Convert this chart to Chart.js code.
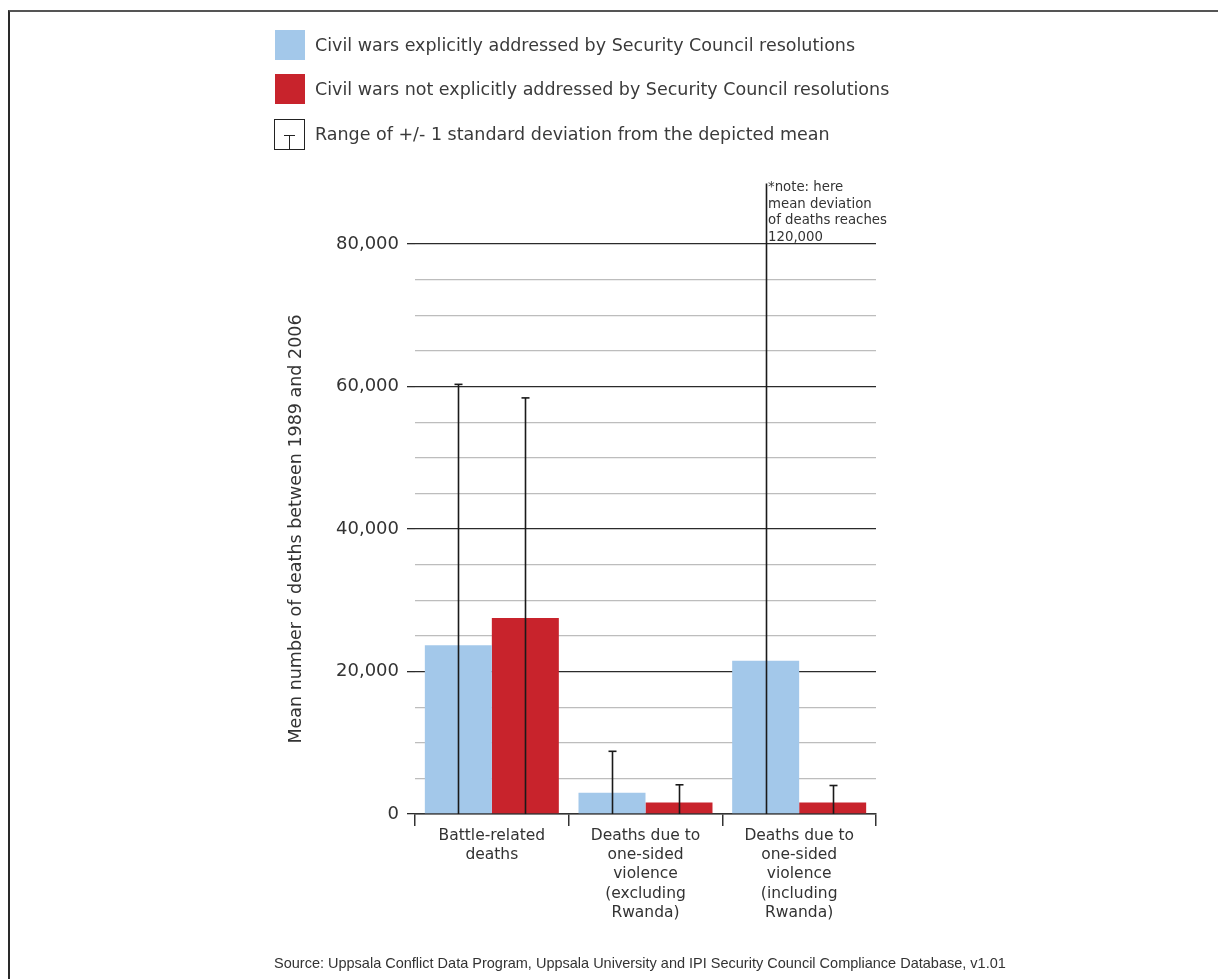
<!DOCTYPE html>
<html>
<head>
<meta charset="utf-8">
<script src="https://cdn.jsdelivr.net/npm/chart.js@4/dist/chart.umd.min.js"></script>
<style>
html,body{margin:0;padding:0;background:#fff;width:1218px;height:979px;overflow:hidden;}
#frame{position:absolute;left:8px;top:10px;width:1300px;height:1100px;border-left:2px solid #2a2a2a;border-top:2px solid #555;box-sizing:border-box;}
#c{position:absolute;left:0;top:0;}
.sw{position:absolute;left:275px;width:30px;height:30px;}
.lt{position:absolute;left:315px;font-family:'DejaVu Sans',sans-serif;font-size:17.5px;color:#3a3a3a;line-height:20px;white-space:nowrap;}
#sdbox{position:absolute;left:274px;top:119px;width:31px;height:31px;border:1px solid #222;box-sizing:border-box;}
#sdbox .h{position:absolute;left:9px;top:15px;width:11px;height:1px;background:#222;}
#sdbox .v{position:absolute;left:14px;top:15px;width:1px;height:15px;background:#222;}
#src{position:absolute;left:274px;top:954px;font-family:'Liberation Sans Narrow','Liberation Sans',sans-serif;font-size:14.5px;color:#333;white-space:nowrap;line-height:18px;}
</style>
</head>
<body>
<div id="frame"></div>
<canvas id="c" width="1218" height="979"></canvas>
<div class="sw" style="top:30px;background:#A3C8EA"></div>
<div class="lt" id="lt1" style="top:35px"></div>
<div class="sw" style="top:74px;background:#C8232C"></div>
<div class="lt" id="lt2" style="top:79px"></div>
<div id="sdbox"><div class="h"></div><div class="v"></div></div>
<div class="lt" id="lt3" style="top:124px"></div>
<div id="src"></div>
<script>
// ---- data ----
const categories = [
  ["Battle-related", "deaths"],
  ["Deaths due to", "one-sided", "violence", "(excluding", "Rwanda)"],
  ["Deaths due to", "one-sided", "violence", "(including", "Rwanda)"]
];
const seriesNames = [
  "Civil wars explicitly addressed by Security Council resolutions",
  "Civil wars not explicitly addressed by Security Council resolutions"
];
const sdLegendText = "Range of +/- 1 standard deviation from the depicted mean";
const addressedMeans = [23700, 3000, 21500];
const notAddressedMeans = [27500, 1600, 1600];
const addressedSD = [36600, 5800, 98500];
const notAddressedSD = [30900, 2500, 2400];
const errorDrawLimit = 88500;
const yMin = 0, yMax = 80000, yMinorStep = 5000, yMajorStep = 20000;
const yTitle = "Mean number of deaths between 1989 and 2006";
const noteLines = ["*note: here", "mean deviation", "of deaths reaches", "120,000"];
const sourceText = "Source: Uppsala Conflict Data Program, Uppsala University and IPI Security Council Compliance Database, v1.01";
const colors = ["#A3C8EA", "#C8232C"];

document.getElementById('lt1').textContent = seriesNames[0];
document.getElementById('lt2').textContent = seriesNames[1];
document.getElementById('lt3').textContent = sdLegendText;
document.getElementById('src').textContent = sourceText;

const sdSets = [addressedSD, notAddressedSD];

const errorPlugin = {
  id: 'errorBars',
  afterDatasetsDraw(chart) {
    const ctx = chart.ctx;
    const ys = chart.scales.y;
    sdSets.forEach((sds, di) => {
      const means = chart.data.datasets[di].data;
      chart.getDatasetMeta(di).data.forEach((bar, i) => {
        const upper = means[i] + sds[i];
        const clipped = upper > errorDrawLimit;
        const topPx = ys.getPixelForValue(Math.min(upper, errorDrawLimit));
        const basePx = ys.getPixelForValue(0);
        const x = Math.round(bar.x) + 0.5;
        ctx.save();
        ctx.strokeStyle = '#1a1a1a';
        ctx.lineWidth = 1.6;
        ctx.beginPath(); ctx.moveTo(x, basePx); ctx.lineTo(x, topPx); ctx.stroke();
        if (!clipped) {
          ctx.beginPath(); ctx.moveTo(x - 4, topPx); ctx.lineTo(x + 4, topPx); ctx.stroke();
        } else {
          ctx.fillStyle = '#333';
          ctx.font = '13.3px "DejaVu Sans"';
          ctx.textBaseline = 'middle';
          ctx.textAlign = 'left';
          noteLines.forEach((t, k) => ctx.fillText(t, x + 1.5, topPx + 4.5 + k * 16.5));
        }
        ctx.restore();
      });
    });
  }
};

new Chart(document.getElementById('c'), {
  type: 'bar',
  data: {
    labels: categories,
    datasets: [
      { label: seriesNames[0], data: addressedMeans, backgroundColor: colors[0], borderWidth: 0 },
      { label: seriesNames[1], data: notAddressedMeans, backgroundColor: colors[1], borderWidth: 0 }
    ]
  },
  options: {
    responsive: false,
    animation: false,
    categoryPercentage: 0.872,
    barPercentage: 1.0,
    layout: { padding: { left: 282, top: 244, right: 342, bottom: 45 } },
    plugins: { legend: { display: false }, tooltip: { enabled: false } },
    scales: {
      x: {
        type: 'category',
        offset: true,
        afterFit(s) { s.height = 120; },
        grid: { offset: true, drawOnChartArea: false, drawTicks: true, tickLength: 12, color: '#333', lineWidth: 1.5 },
        border: { display: true, color: '#333', width: 1.5 },
        ticks: { color: '#333', font: { family: 'DejaVu Sans', size: 15.5, lineHeight: 1.245 }, padding: 0, maxRotation: 0, autoSkip: false }
      },
      y: {
        min: yMin, max: yMax,
        afterFit(s) { s.width = 133; },
        border: { display: false },
        grid: {
          color: c => (c.tick && c.tick.value % yMajorStep === 0) ? '#2b2b2b' : '#bdbdbd',
          lineWidth: c => (c.tick && c.tick.value % yMajorStep === 0) ? 1.3 : 1.2,
          tickLength: 8,
          tickColor: c => (c.tick && c.tick.value % yMajorStep === 0) ? '#2b2b2b' : 'rgba(0,0,0,0)'
        },
        ticks: {
          stepSize: yMinorStep,
          autoSkip: false,
          padding: 8,
          color: '#333',
          font: { family: 'DejaVu Sans', size: 18 },
          callback: v => (v % yMajorStep === 0) ? v.toLocaleString('en-US') : ''
        },
        title: { display: true, text: yTitle, color: '#333', font: { family: 'DejaVu Sans', size: 17.5 } }
      }
    }
  },
  plugins: [errorPlugin]
});
</script>
</body>
</html>
